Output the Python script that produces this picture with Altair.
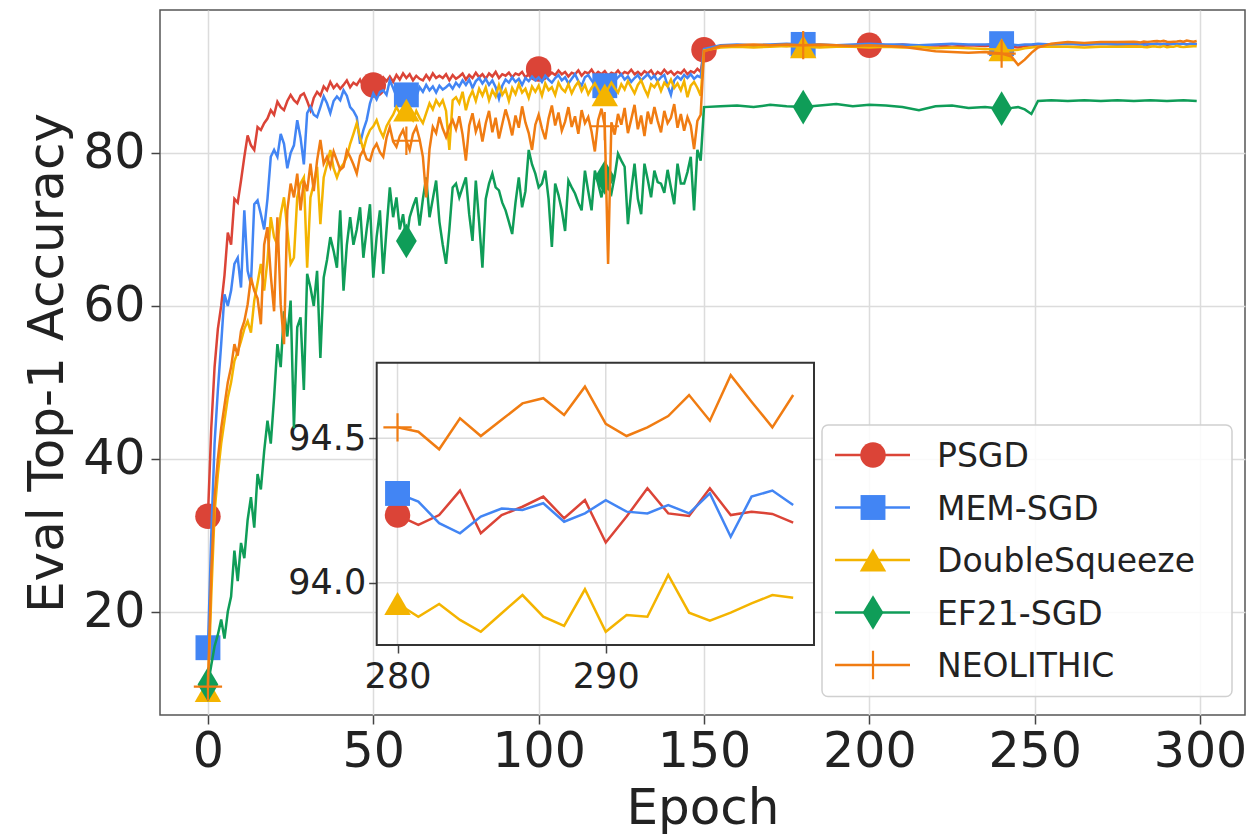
import altair as alt
import pandas as pd

# ---------------- data ----------------
SERIES = ["PSGD", "MEM-SGD", "DoubleSqueeze", "EF21-SGD", "NEOLITHIC"]
COLORS = ["#DB4437", "#4285F4", "#F4B400", "#0F9D58", "#F07C12"]

EARLY_EPOCHS = list(range(0, 151))
LATE_EPOCHS = [155, 160, 165, 170, 175, 180, 185, 190, 195, 200, 205, 210, 215, 220,
               225, 230, 235, 240, 243, 245, 247, 249, 251, 255, 260, 265, 270, 275]
INSET_EPOCHS = list(range(280, 300))
EF21_TAIL_EPOCHS = [280, 285, 290, 295, 299]

PSGD_EARLY = [
    32.5, 44, 52, 57, 60, 64, 69.6, 68, 74, 73.5,
    76.4, 79.5, 82.3, 81, 80.4, 83.4, 83, 83.9, 84.5, 85.6,
    85, 86.7, 86, 85.6, 86.8, 87.6, 86.9, 86.5, 87.5, 87.8,
    86.8, 85.6, 87.2, 88, 87.5, 88.7, 88.2, 89.3, 88.5, 89.0,
    88.4, 88.9, 89.5, 88.6, 89.2, 88.9, 89.6, 88.7, 89.3, 89.0,
    88.9, 89.7, 89.2, 89.9, 89.4, 90.0, 89.3, 90.2, 89.6, 90.4,
    89.8, 90.3, 89.5, 90.1, 89.7, 89.5, 90.2, 89.6, 90.4, 89.8,
    90.1, 89.8, 90.3, 89.5, 90.2, 89.7, 90.0, 90.4, 89.6, 90.2,
    89.8, 90.5, 89.9, 90.3, 89.7, 90.4, 90.0, 90.6, 89.8, 90.3,
    90.1, 90.5, 89.9, 90.4, 90.2, 90.6, 89.9, 90.3, 90.0, 90.5,
    91.0, 90.4, 90.7, 90.1, 90.5, 90.2, 90.8, 90.3, 90.6, 90.0,
    90.5, 90.3, 90.8, 90.1, 90.6, 90.4, 90.9, 90.2, 90.6, 90.3,
    90.7, 90.1, 90.5, 90.3, 90.8, 90.2, 90.6, 90.4, 90.9, 90.3,
    90.6, 90.2, 90.7, 90.4, 90.8, 90.1, 90.6, 90.3, 90.9, 90.4,
    90.7, 90.2, 90.6, 90.4, 90.9, 90.3, 90.7, 90.5, 91.0, 90.6,
    93.5]
MEM_EARLY = [
    15.3, 30, 42, 49, 55, 61.5, 60, 62, 65.5, 66.3,
    62.4, 72.5, 64.6, 62.8, 73.3, 73.8, 72, 70, 74, 79.5,
    80.4, 79.5, 82.5, 81.2, 78, 80, 81, 84.3, 82, 78.5,
    85.2, 86, 85, 84.7, 86, 87.4, 86.5, 85.2, 86.8, 87.4,
    86.9, 88.2, 87.5, 86, 85.5, 84.7, 81.2, 83, 84.3, 86.5,
    87.8, 87, 88, 88.2, 87.6, 89.5, 88.5, 87.4, 88.3, 87.9,
    87.6, 88.5, 87.8, 87.4, 88.6, 88.0, 88.9, 88.2, 88.7, 87.9,
    88.8, 88.3, 88.6, 89.0, 88.4, 89.2, 88.7, 89.5, 88.9, 89.6,
    88.5, 89.4, 89.8, 89.1, 89.7, 88.9, 89.5, 88.6, 87.1, 88.8,
    89.6, 89.2, 89.9, 89.3, 89.7, 88.9, 89.8, 89.4, 90.0, 89.5,
    89.9, 89.3, 90.1, 89.6, 89.2, 89.8, 90.2, 89.5, 89.9, 89.1,
    89.7, 90.3, 89.4, 88.8, 89.9, 90.2, 89.5, 88.9, 89.8, 88.5,
    88.8, 89.6, 90.1, 89.4, 89.9, 90.3, 89.6, 90.0, 89.3, 89.8,
    90.2, 89.5, 89.9, 90.3, 89.7, 90.1, 89.4, 89.9, 90.2, 88.8,
    87.6, 89.5, 90.0, 89.6, 90.2, 89.8, 90.3, 89.7, 90.1, 89.9,
    93.6]
DS_EARLY = [
    9.7, 22, 33, 38, 42, 45, 48, 50, 52.8, 54,
    55.4, 57, 58, 56.5, 60.7, 63, 65.5, 62, 66, 71.6,
    69, 68, 72, 74.2, 70, 65.5, 66.3, 74.2, 76, 76.8,
    65, 74.2, 76, 78.2, 70.7, 76.8, 78.5, 80.4, 78, 76.8,
    78, 78.6, 79.5, 81.2, 82.5, 83.9, 82, 80.4, 82, 83,
    83.5, 84.3, 83, 82.1, 83.5, 84.3, 85, 86, 85.2, 84.5,
    85.6, 85, 84.3, 85.5, 84.6, 83.9, 85.2, 86.5, 85.7, 86.9,
    86.2, 86.9, 85.5, 80.4, 86.9, 87.3, 86.5, 88.0, 85.6, 87.2,
    88.1, 86.8, 88.4, 87.5, 88.6, 86.9, 88.2, 87.4, 88.9, 87.6,
    88.3, 86.8, 88.5, 87.7, 89.0, 87.9, 88.4, 87.2, 88.7, 88.0,
    88.8, 87.5, 89.1, 88.2, 88.6, 87.6, 89.2, 88.4, 88.0, 89.0,
    87.8, 88.7, 89.3, 88.1, 88.9, 87.7, 88.5, 89.1, 88.3, 87.4,
    87.6, 88.4, 89.2, 88.5, 87.9, 89.0, 88.3, 89.4, 88.6, 87.8,
    88.9, 89.5, 88.4, 87.5, 89.0, 88.6, 89.3, 88.1, 89.2, 88.7,
    89.6, 88.5, 89.1, 88.2, 89.4, 87.3, 88.8, 89.3, 88.5, 87.5,
    93.4]
EF21_EARLY = [
    10.5, 13, 15.5, 17, 19, 16.5, 20, 22, 28, 24,
    29, 27, 32, 35, 31, 38, 36, 41, 45, 42,
    48, 55, 52, 59.3, 56, 60.7, 44, 57.2, 58.5, 49,
    64.2, 62.4, 60, 64.6, 53.2, 63.7, 66, 69, 67.2, 65,
    72.5, 62, 68, 71.6, 68, 70, 72.9, 66.3, 70, 73.3,
    63.7, 69, 72.5, 64.2, 70, 75.5, 71.6, 74.2, 70, 72,
    68.5, 71.6, 73, 74.2, 70.5, 74, 76.8, 71.6, 74, 76.4,
    71, 68, 65.5, 70, 75.5, 76, 74.2, 75.5, 76.8, 72,
    68.5, 76.4, 71, 65, 74, 76, 77.3, 75.5, 75.1, 73.5,
    72.5, 71, 69.4, 73.5, 76.8, 72.9, 75, 80.4, 78.5, 77.3,
    75.5, 76, 77.7, 74, 67.7, 76, 74.5, 72.5, 69.8, 76.4,
    75.5, 74.7, 73.5, 72.5, 77.7, 75, 72.5, 77.7, 76, 74.2,
    76.8, 75.5, 74.7, 77, 79.9, 79, 78.2, 70.7, 75, 78.6,
    74, 72, 78.6, 76.5, 74.2, 77.7, 76.2, 76, 74.8, 77.8,
    75.5, 73.3, 78.6, 76, 76, 77.5, 79.5, 72.5, 80.4, 79,
    86.0]
NEO_EARLY = [
    10.2, 25, 35, 40, 44, 47, 50, 52, 55, 53.5,
    56.7, 58, 60.2, 63.7, 62, 61, 57.6, 68, 70.3, 64,
    59.3, 71.6, 60.2, 55, 72.5, 76, 74.2, 77.3, 72.5, 76.4,
    75, 78.6, 75, 79, 81.7, 78.6, 79.5, 78.2, 80.2, 79,
    77.8, 78.2, 80.3, 79.5, 78.5, 77.3, 79.6, 80.4, 79.2, 79,
    80.5, 81.2, 80.1, 79.5, 82, 83.4, 81.5, 80.8, 82.2, 83,
    81.6, 80.4, 82.5, 83.4, 81.8, 79.5, 74.2, 80.5, 83.4, 82.6,
    84.7, 83.2, 82.1, 83.5, 84.3, 83.1, 84.8, 82.4, 79.0, 83.6,
    85.2, 82.8, 84.0, 81.5, 83.9, 85.5, 82.7, 84.6, 81.9, 83.8,
    85.7, 84.2, 82.3, 84.9, 83.3, 86.1, 84.0, 82.6, 80.4, 83.7,
    85.0, 83.2, 81.8, 84.5, 86.2, 83.6, 85.3, 82.9, 84.1, 86.0,
    83.4, 84.8, 82.5, 85.6, 83.9, 84.7, 82.8, 80.2, 84.3, 85.8,
    83.5, 65.5, 84.0, 82.4, 85.1, 83.7, 85.9, 82.6, 84.4, 86.3,
    83.1, 84.9, 82.2, 85.4, 83.8, 86.0, 84.2, 82.7, 85.5, 83.9,
    84.6, 86.4, 83.3, 85.1, 82.9, 84.7, 83.6, 80.5, 84.2, 85.0,
    93.3]

PSGD_LATE = [94.0, 94.1, 93.9, 94.1, 94.0, 94.2, 94.0, 94.1, 93.9, 94.1, 94.0, 94.2, 94.0, 94.1,
             93.9, 94.1, 94.0, 94.1, 93.9, 93.8, 94.0, 94.1, 94.2, 94.2, 94.3, 94.2, 94.3, 94.2]
MEM_LATE = [94.1, 94.2, 94.1, 94.2, 94.3, 94.2, 94.2, 94.1, 94.2, 94.3, 94.2, 94.2, 94.1, 94.2,
            94.3, 94.2, 94.2, 94.3, 94.2, 94.1, 94.2, 94.2, 94.3, 94.2, 94.3, 94.2, 94.3, 94.2]
DS_LATE = [93.8, 93.9, 93.8, 93.9, 94.0, 93.9, 93.8, 93.9, 93.9, 93.8, 93.9, 93.8, 93.9, 93.7,
           93.8, 93.7, 93.6, 93.5, 93.4, 93.5, 93.7, 93.8, 93.9, 93.9, 93.9, 93.8, 93.9, 93.9]
EF21_LATE = [86.1, 86.2, 86.0, 86.3, 86.1, 86.0, 86.2, 86.4, 86.1, 86.3, 86.2, 86.0, 85.6, 86.1,
             86.2, 85.9, 86.0, 85.8, 85.9, 86.0, 85.7, 85.1, 86.8, 86.9, 86.8, 86.9, 86.8, 86.9]
NEO_LATE = [94.0, 94.1, 94.2, 94.1, 94.2, 94.1, 94.2, 94.1, 94.0, 94.1, 94.0, 93.9, 93.6, 93.3,
            93.2, 93.1, 93.2, 93.0, 92.6, 91.5, 92.2, 93.1, 93.8, 94.3, 94.5, 94.4, 94.5, 94.5]

PSGD_INSET = [94.234, 94.2, 94.234, 94.319, 94.171, 94.234, 94.263, 94.298, 94.223, 94.286,
              94.139, 94.229, 94.327, 94.24, 94.231, 94.327, 94.234, 94.246, 94.238, 94.208]
MEM_INSET = [94.309, 94.281, 94.206, 94.171, 94.229, 94.257, 94.252, 94.275, 94.211, 94.24,
             94.286, 94.246, 94.24, 94.269, 94.24, 94.309, 94.159, 94.298, 94.319, 94.269]
DS_INSET = [93.928, 93.882, 93.926, 93.871, 93.83, 93.894, 93.957, 93.882, 93.85, 93.977,
            93.83, 93.888, 93.882, 94.027, 93.896, 93.868, 93.896, 93.928, 93.957, 93.948]
NEO_INSET = [94.538, 94.523, 94.462, 94.569, 94.508, 94.564, 94.621, 94.639, 94.581, 94.679,
             94.55, 94.508, 94.538, 94.577, 94.65, 94.561, 94.719, 94.627, 94.538, 94.65]
EF21_TAIL = [86.8, 86.9, 86.8, 86.9, 86.8]

MARK_EPOCHS = {"PSGD": [0, 50, 100, 150, 200, 250]}
MARK_EPOCHS_DEFAULT = [0, 60, 120, 180, 240]
INSET_MARK_EPOCH = 280

X_TICKS = [0, 50, 100, 150, 200, 250, 300]
Y_TICKS = [20, 40, 60, 80]
INSET_X_TICKS = [280, 290]
INSET_Y_TICKS = [94.0, 94.5]

# ---------------- tables ----------------
for arr in (PSGD_EARLY, MEM_EARLY, DS_EARLY, EF21_EARLY, NEO_EARLY):
    assert len(arr) == len(EARLY_EPOCHS)

main_rows = []
inset_rows = []
full = {
    "PSGD": (PSGD_EARLY, PSGD_LATE, INSET_EPOCHS, PSGD_INSET),
    "MEM-SGD": (MEM_EARLY, MEM_LATE, INSET_EPOCHS, MEM_INSET),
    "DoubleSqueeze": (DS_EARLY, DS_LATE, INSET_EPOCHS, DS_INSET),
    "EF21-SGD": (EF21_EARLY, EF21_LATE, EF21_TAIL_EPOCHS, EF21_TAIL),
    "NEOLITHIC": (NEO_EARLY, NEO_LATE, INSET_EPOCHS, NEO_INSET),
}
for s in SERIES:
    early, late, tail_ep, tail = full[s]
    for e, v in zip(EARLY_EPOCHS, early):
        main_rows.append({"series": s, "epoch": e, "acc": v})
    for e, v in zip(LATE_EPOCHS, late):
        main_rows.append({"series": s, "epoch": e, "acc": v})
    for e, v in zip(tail_ep, tail):
        main_rows.append({"series": s, "epoch": e, "acc": v})
    if s != "EF21-SGD":
        for e, v in zip(tail_ep, tail):
            inset_rows.append({"series": s, "epoch": e, "acc": v})
main_df = pd.DataFrame(main_rows)
inset_df = pd.DataFrame(inset_rows)

# ---------------- styling ----------------
FONT = "DejaVu Sans"
W, H = 1085, 705
SHAPES = {
    "PSGD": ("circle", 650, True),
    "MEM-SGD": ("square", 620, True),
    "DoubleSqueeze": ("triangle-up", 700, True),
    "EF21-SGD": ("M0,-1L0.6,0L0,1L-0.6,0Z", 1200, True),
    "NEOLITHIC": ("M-1,0L1,0M0,-1L0,1", 800, False),
}
LW = 2.5

xs_main = alt.Scale(domain=[-14.5, 313.6], nice=False, zero=False)
ys_main = alt.Scale(domain=[6.5, 98.7], nice=False, zero=False)

x_main = alt.X("epoch:Q", scale=xs_main,
               axis=alt.Axis(values=X_TICKS, title="Epoch", format="d", labelPadding=3,
                             titlePadding=7))
y_main = alt.Y("acc:Q", scale=ys_main,
               axis=alt.Axis(values=Y_TICKS, title="Eval Top-1 Accuracy", format="d",
                             labelPadding=6, titlePadding=10))

main_layers = []
for s, c in zip(SERIES, COLORS):
    d = main_df[main_df.series == s]
    main_layers.append(
        alt.Chart(d).mark_line(color=c, strokeWidth=LW, clip=True).encode(x=x_main, y=y_main)
    )
    me = MARK_EPOCHS.get(s, MARK_EPOCHS_DEFAULT)
    shp, size, filled = SHAPES[s]
    if filled:
        pm = alt.Chart(d[d.epoch.isin(me)]).mark_point(shape=shp, size=size, filled=True,
                                                        color=c, opacity=1, strokeWidth=0)
    else:
        pm = alt.Chart(d[d.epoch.isin(me)]).mark_point(shape=shp, size=size, filled=False,
                                                        color=c, opacity=1, strokeWidth=2.2)
    main_layers.append(pm.encode(x=x_main, y=y_main))
main = alt.layer(*main_layers)

# ---------------- inset ----------------
INSET_XDOM = [279.0, 300.0]
INSET_YDOM = [93.784, 94.762]
IX0, IX1 = 216.7, 654.0
IY_TOP, IY_BOT = 352.7, 635.0

xs_in = alt.Scale(domain=INSET_XDOM, range=[IX0, IX1], nice=False, zero=False)
ys_in = alt.Scale(domain=INSET_YDOM, range=[IY_BOT, IY_TOP], nice=False, zero=False)
x_in = alt.X("epoch:Q", scale=xs_in,
             axis=alt.Axis(orient="bottom", offset=-(H - IY_BOT), values=INSET_X_TICKS,
                           grid=False, domain=False, title=None, labelFontSize=35,
                           tickSize=8, labelPadding=6, format="d"))
y_in = alt.Y("acc:Q", scale=ys_in,
             axis=alt.Axis(orient="left", offset=-IX0, values=INSET_Y_TICKS, grid=False,
                           domain=False, title=None, labelFontSize=35, tickSize=8,
                           labelPadding=3, format=".1f"))

frame_df = pd.DataFrame([{"epoch": INSET_XDOM[0], "e2": INSET_XDOM[1],
                          "acc": INSET_YDOM[0], "a2": INSET_YDOM[1]}])
frame_bg = alt.Chart(frame_df).mark_rect(fill="white", stroke=None).encode(
    x=x_in, x2="e2:Q", y=y_in, y2="a2:Q")
frame_border = alt.Chart(frame_df).mark_rect(fill=None, stroke="#333", strokeWidth=2).encode(
    x=x_in, x2="e2:Q", y=y_in, y2="a2:Q")

vg_df = pd.DataFrame({"epoch": INSET_X_TICKS, "acc": [INSET_YDOM[0]] * 2, "a2": [INSET_YDOM[1]] * 2})
hg_df = pd.DataFrame({"acc": INSET_Y_TICKS, "epoch": [INSET_XDOM[0]] * 2, "e2": [INSET_XDOM[1]] * 2})
vgrid = alt.Chart(vg_df).mark_rule(color="#dcdcdc", strokeWidth=1.5).encode(x=x_in, y=y_in, y2="a2:Q")
hgrid = alt.Chart(hg_df).mark_rule(color="#dcdcdc", strokeWidth=1.5).encode(y=y_in, x=x_in, x2="e2:Q")

inset_layers = [frame_bg, vgrid, hgrid]
for s, c in zip(SERIES, COLORS):
    if s == "EF21-SGD":
        continue
    d = inset_df[inset_df.series == s]
    inset_layers.append(alt.Chart(d).mark_line(color=c, strokeWidth=LW).encode(x=x_in, y=y_in))
    shp, size, filled = SHAPES[s]
    dm = d[d.epoch == INSET_MARK_EPOCH]
    if filled:
        pm = alt.Chart(dm).mark_point(shape=shp, size=size, filled=True, color=c, opacity=1, strokeWidth=0)
    else:
        pm = alt.Chart(dm).mark_point(shape=shp, size=size, filled=False, color=c, opacity=1, strokeWidth=2.2)
    inset_layers.append(pm.encode(x=x_in, y=y_in))
inset_layers.append(frame_border)
inset = alt.layer(*inset_layers)

# ---------------- legend ----------------
LEG_ROW0, LEG_ROW4 = 445.0, 655.0
leg_df = pd.DataFrame({"series": SERIES, "idx": list(range(len(SERIES)))})
ys_leg = alt.Scale(domain=[0, len(SERIES) - 1], range=[LEG_ROW0, LEG_ROW4], nice=False, zero=False)
y_leg = alt.Y("idx:Q", scale=ys_leg, axis=None)

box_df = pd.DataFrame([{"idx": -0.57, "i2": 4.6}])
leg_box = alt.Chart(box_df).mark_rect(fill="white", fillOpacity=0.85, stroke="#d0d0d0",
                                       strokeWidth=1.5, cornerRadius=6).encode(
    x=alt.value(662), x2=alt.value(1072), y=y_leg, y2="i2:Q")
leg_layers = [leg_box]
for i, (s, c) in enumerate(zip(SERIES, COLORS)):
    d = leg_df[leg_df.series == s]
    leg_layers.append(alt.Chart(d).mark_rule(color=c, strokeWidth=LW).encode(
        x=alt.value(675), x2=alt.value(750), y=y_leg))
    shp, size, filled = SHAPES[s]
    if filled:
        pm = alt.Chart(d).mark_point(shape=shp, size=size, filled=True, color=c, opacity=1, strokeWidth=0)
    else:
        pm = alt.Chart(d).mark_point(shape=shp, size=size, filled=False, color=c, opacity=1, strokeWidth=2.2)
    leg_layers.append(pm.encode(x=alt.value(713), y=y_leg))
leg_layers.append(alt.Chart(leg_df).mark_text(align="left", baseline="middle", font=FONT,
                                              fontSize=33, color="#222", dy=2).encode(
    x=alt.value(777), y=y_leg, text="series:N"))
legend = alt.layer(*leg_layers)

chart = alt.layer(main, inset, legend).resolve_scale(x="independent", y="independent").properties(
    width=W, height=H,
    autosize=alt.AutoSizeParams(type="none"),
    padding={"left": 152, "top": 2, "right": 3, "bottom": 126},
).configure_view(stroke="#555", strokeWidth=1.5).configure_axis(
    labelFont=FONT, titleFont=FONT, labelFontSize=49, titleFontSize=50, labelColor="#222",
    titleColor="#222", titleFontWeight="normal", tickColor="#444", tickWidth=1.5, tickSize=9,
    gridColor="#dcdcdc", gridWidth=1.5, domain=False,
)

chart.save("out.html", embed_options={"renderer": "svg", "actions": False})
